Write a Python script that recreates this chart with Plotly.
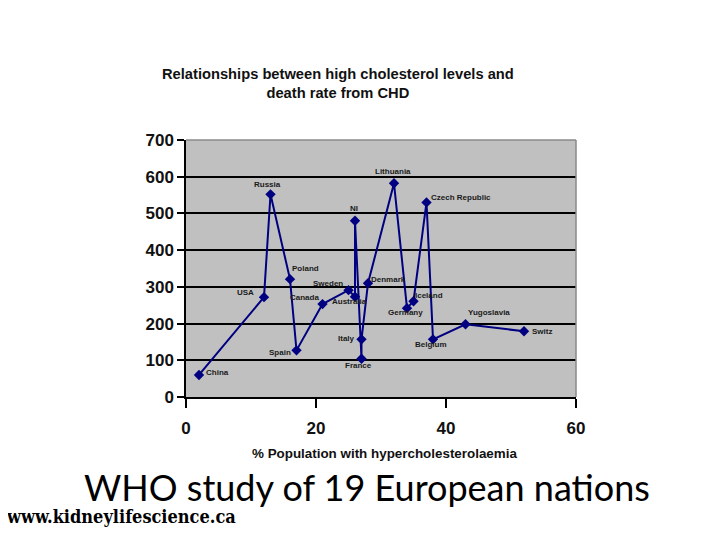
import plotly.graph_objects as go

countries = ["China", "USA", "Russia", "Poland", "Spain", "Canada", "Sweden",
             "Australia", "NI", "France", "Italy", "Denmark", "Lithuania",
             "Germany", "Iceland", "Czech Republic", "Belgium", "Yugoslavia", "Switz"]
pct_hyper = [2, 12, 13, 16, 17, 21, 25, 26, 26, 27, 27, 28, 32, 34, 35, 37, 38, 43, 52]
chd_deaths = [60, 272, 552, 321, 127, 253, 291, 273, 480, 104, 157, 310, 582, 242, 261, 530, 157, 198, 179]

x_ticks = [0, 20, 40, 60]
y_ticks = [0, 100, 200, 300, 400, 500, 600, 700]

# label offsets in pixels (style)
label_shift = {
    "China": (18, 2), "USA": (-19, 5), "Russia": (-3, 10), "Poland": (15, 11),
    "Spain": (-17, -2), "Canada": (-18, 7), "Sweden": (-21, 7), "Australia": (-6, -5),
    "NI": (-1, 12), "France": (-3, -7), "Italy": (-15, 1), "Denmark": (20, 4),
    "Lithuania": (-1, 12), "Germany": (-2, -4), "Iceland": (15, 6),
    "Czech Republic": (34, 5), "Belgium": (-2, -5), "Yugoslavia": (23, 12), "Switz": (18, 0),
}

W, H = 720, 540
OFF = 8  # page body margin compensation
L, R, T, B = 186 - OFF, 576 - OFF, 140 - OFF, 397 - OFF


def px(x):
    return (x - OFF) / W


def py(y):
    return 1 - (y - OFF) / H


fig = go.Figure()
fig.add_trace(go.Scatter(
    x=pct_hyper, y=chd_deaths, mode="lines+markers",
    line=dict(color="#000080", width=2),
    marker=dict(symbol="diamond", size=8, color="#000080"),
    hoverinfo="text", text=countries, showlegend=False,
))

annotations = []
for c, xv, yv in zip(countries, pct_hyper, chd_deaths):
    dx, dy = label_shift[c]
    annotations.append(dict(
        x=xv, y=yv, xref="x", yref="y", text=c, showarrow=False,
        xshift=dx, yshift=dy,
        font=dict(family="Liberation Sans, Arial", size=8, color="#1a1a1a", weight="bold"),
    ))

annotations += [
    dict(x=px(338), y=py(84), xref="paper", yref="paper", showarrow=False,
         text="Relationships between high cholesterol levels and<br>death rate from CHD",
         font=dict(family="Liberation Sans, Arial", size=14.7, color="#111", weight="bold"),
         align="center", yanchor="middle"),
    dict(x=px(384), y=py(453), xref="paper", yref="paper", showarrow=False,
         text="% Population with hypercholesterolaemia",
         font=dict(family="Liberation Sans, Arial", size=13.4, color="#111", weight="bold"),
         yanchor="middle"),
    dict(x=px(367), y=py(487), xref="paper", yref="paper", showarrow=False,
         text="WHO study of 19 European nations",
         font=dict(family="Lato, Open Sans", size=36, color="#000"),
         yanchor="middle"),
    dict(x=px(4), y=py(516), xref="paper", yref="paper", showarrow=False,
         text="www.kidneylifescience.ca", xanchor="left",
         font=dict(family="DejaVu Serif Condensed, DejaVu Serif", size=18, color="#000", weight="bold"),
         yanchor="middle"),
]

fig.update_layout(
    width=W, height=H, margin=dict(l=0, r=0, t=0, b=0, autoexpand=False),
    paper_bgcolor="white", plot_bgcolor="#c0c0c0",
    annotations=annotations,
    xaxis=dict(domain=[L / W, R / W], range=[0, 60], tickvals=x_ticks, automargin=False,
               showgrid=False, zeroline=False, showline=True, linecolor="black", linewidth=1.5,
               ticks="outside", ticklen=9, tickcolor="black", tickwidth=1.5, ticklabelstandoff=6,
               tickfont=dict(family="Liberation Sans, Arial", size=17, color="#111", weight="bold")),
    yaxis=dict(domain=[1 - B / H, 1 - T / H], range=[0, 700], tickvals=y_ticks, automargin=False,
               showgrid=True, gridcolor="black", gridwidth=1.5, zeroline=False,
               showline=True, linecolor="black", linewidth=1.5,
               ticks="outside", ticklen=7, tickcolor="black", tickwidth=1.5,
               tickfont=dict(family="Liberation Sans, Arial", size=17, color="#111", weight="bold")),
    shapes=[
        dict(type="line", xref="paper", yref="paper", x0=L / W, x1=R / W, y0=1 - T / H, y1=1 - T / H,
             line=dict(color="#8a8a8a", width=1.5), layer="above"),
        dict(type="line", xref="paper", yref="paper", x0=R / W, x1=R / W, y0=1 - B / H, y1=1 - T / H,
             line=dict(color="#8a8a8a", width=1.5), layer="above"),
    ],
)

fig.write_html("out.html")
